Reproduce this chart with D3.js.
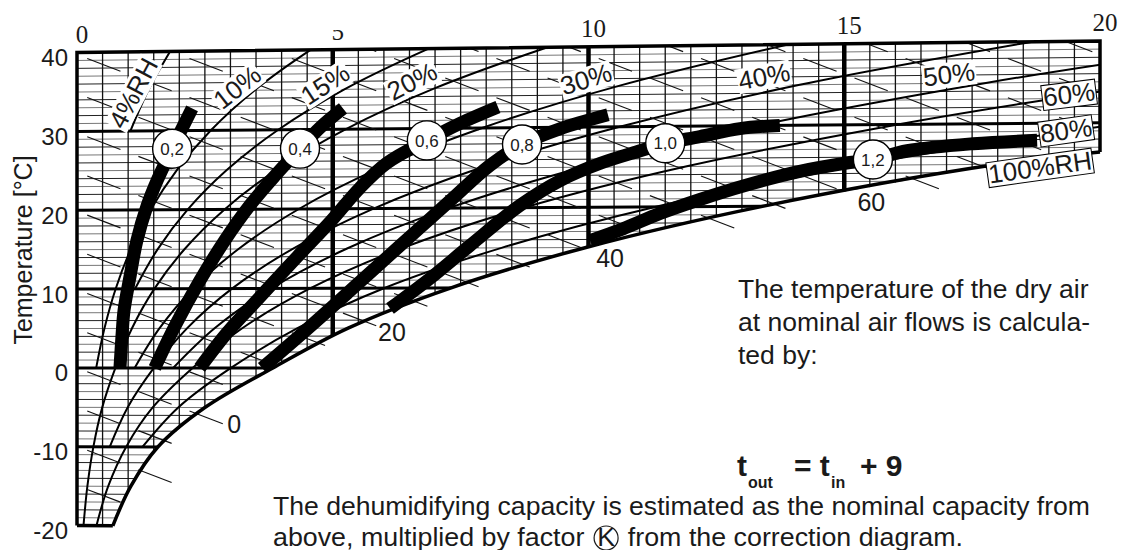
<!DOCTYPE html>
<html>
<head>
<meta charset="utf-8">
<script src="https://cdn.jsdelivr.net/npm/d3@7"></script>
<style>
    body { margin: 0; background: #fff; }
    text { font-family: "Liberation Sans", Arial, Helvetica, sans-serif; fill: #1a1a1a; }
    .serif { font-family: "Liberation Serif", "Times New Roman", serif; }
</style>
</head>
<body>
<svg id="chart" width="1124" height="550"></svg>
<script>
// humidity ratio (g/kg) on top, temperature (°C) on the left
var xTicks = [0, 5, 10, 15, 20],
    tTicks = [-20, -10, 0, 10, 20, 30, 40],
    enthalpyLabels = [0, 20, 40, 60];

// curves as [x g/kg, t °C]
var saturation = [[0.70,-20],[1.05,-15],[1.58,-10],[2.5,-5],[3.83,0],[5.3,5],[7.3,10],[9.95,15],[13.4,20],[18.0,25],[20.0,26.4]];
var rh04 = [[1.045,30],[1.385,35],[1.819,40],[1.916,41]];
var rh10 = [[0.375,0],[0.536,5],[0.755,10],[1.049,15],[1.439,20],[1.952,25],[2.618,30],[3.475,35],[4.566,40],[5.08,42]];
var rh15 = [[1.133,10],[1.575,15],[2.162,20],[2.933,25],[3.935,30],[5.227,35],[6.875,40],[7.65,42]];
var rh20 = [[0.127,-20],[0.203,-15],[0.32,-10],[0.494,-5],[0.751,0],[1.073,5],[1.511,10],[2.101,15],[2.885,20],[3.916,25],[5.258,30],[6.988,35],[9.20,40],[10.24,42]];
var rh30 = [[1.127,0],[1.611,5],[2.27,10],[3.157,15],[4.338,20],[5.893,25],[7.92,30],[10.54,35],[13.90,40],[15.49,42]];
var rh40 = [[0.64,-10],[0.99,-5],[1.503,0],[2.15,5],[3.03,10],[4.217,15],[5.797,20],[7.882,25],[10.61,30],[14.13,35],[18.68,40],[20.8,42]];
var rh50 = [[1.88,0],[2.69,5],[3.793,10],[5.28,15],[7.264,20],[9.884,25],[13.31,30],[17.77,35],[21.04,38]];
var rh60 = [[0.38,-20],[0.609,-15],[0.96,-10],[1.48,-5],[2.26,0],[3.23,5],[4.557,10],[6.347,15],[8.737,20],[11.9,25],[16.05,30],[19.09,33],[21.4,35]];
var rh80 = [[1.28,-10],[1.98,-5],[3.01,0],[4.31,5],[6.0,10],[8.3,15],[11.3,20],[15.3,25],[18.3,28],[20.6,30]];

// correction factor K curves
var k02 = [[0.84,0],[0.88,4.1],[0.92,7.3],[1.04,11.7],[1.17,16.1],[1.37,20.5],[1.58,23.9],[1.86,27.7],[2.25,32.8]];
var k04 = [[1.52,0],[1.92,5.35],[2.40,11.0],[2.89,16.1],[3.38,20.5],[3.87,24.2],[4.36,27.6],[4.75,30.2],[5.2,32.6]];
var k06 = [[2.40,0],[2.93,4.4],[3.52,8.55],[4.30,13.95],[4.95,18.35],[5.53,22.6],[6.06,25.7],[6.84,28.5],[7.49,30.6],[8.23,32.6]];
var k08 = [[3.62,0],[4.36,4.1],[5.34,9.7],[6.31,15.3],[7.29,20.9],[8.07,25.3],[8.70,27.9],[9.44,29.8],[10.38,31.5]];
var k10 = [[6.12,7.45],[6.90,11.2],[7.68,15.3],[8.66,20.3],[9.44,23.35],[10.22,25.45],[11.01,27.0],[11.5,27.9],[12.18,28.7],[12.96,29.65],[13.74,30.0]];
var k12 = [[10.03,15.85],[10.67,17.3],[11.40,19.2],[12.18,20.9],[13.06,22.6],[14.13,24.3],[15.11,25.35],[15.56,25.7],[16.23,26.75],[17.52,27.55],[18.77,27.9]];

var rhSeries = [rh04, rh10, rh15, rh20, rh30, rh40, rh50, rh60, rh80];
var kSeries = [
    {label: "0,2", pts: k02, at: 7},
    {label: "0,4", pts: k04, at: 6},
    {label: "0,6", pts: k06, at: 7},
    {label: "0,8", pts: k08, at: 6},
    {label: "1,0", pts: k10, at: 7},
    {label: "1,2", pts: k12, at: 7}
];

// label placement (pixels, degrees)
var rhLabels = [
    {text: "4%RH", x: 133, y: 93, a: -62, box: false},
    {text: "10%", x: 237, y: 87, a: -38, box: false},
    {text: "15%", x: 325, y: 84, a: -33, box: false},
    {text: "20%", x: 412, y: 81, a: -27, box: false},
    {text: "30%", x: 586, y: 79, a: -17, box: false},
    {text: "40%", x: 764, y: 76, a: -11, box: false},
    {text: "50%", x: 949, y: 74, a: -7, box: false},
    {text: "60%", x: 1069, y: 94, a: -7, box: true},
    {text: "80%", x: 1066, y: 130, a: -8, box: true},
    {text: "100%RH", x: 1040, y: 167, a: -8, box: true}
];

var svg = d3.select("#chart");

var xScale = d3.scaleLinear().domain([0, 20]).range([77, 1100]),
    yScale = d3.scaleLinear().domain([-20, 40]).range([525.6, 52.6]),
    skew = 0.00185;   // isotherms rise with x (Mollier skew)

function px(d) { return xScale(d[0]); }
function py(d) { return yScale(d[1] * (1 + skew * d[0])); }

var satT = d3.scaleLinear()
    .domain(saturation.map(function(d) { return d[0]; }))
    .range(saturation.map(function(d) { return d[1]; }));

function topY(x) { return 40 * (1 + skew * x); }
function lowY(x) { return x < saturation[0][0] ? -20 : satT(x) * (1 + skew * x); }
function hY(h, x) { return (h - 2.501 * x) / 1.006; }

var curve = d3.line().x(px).y(py).curve(d3.curveCatmullRom.alpha(0.5));
var straight = d3.line().x(px).y(py);

// chart area outline
var region = [[0, -20], [0, 40], [20, 40]].concat(saturation.slice().reverse());

var defs = svg.append("defs");
defs.append("clipPath").attr("id", "region")
    .append("path").attr("d", straight(region) + "Z");
defs.append("clipPath").attr("id", "top")
    .append("path").attr("d", "M" + xScale(0) + "," + yScale(40) +
        "L" + xScale(20.6) + "," + yScale(topY(20.6)) +
        "L" + xScale(20.6) + ",560L" + xScale(0) + ",560Z");
defs.append("clipPath").attr("id", "five")
    .append("rect").attr("x", 300).attr("y", 30).attr("width", 60).attr("height", 20);

var grid = svg.append("g").attr("clip-path", "url(#region)");

// thin isotherms every 1 °C
grid.selectAll(".iso")
    .data(d3.range(-19, 40).filter(function(t) { return t % 10 !== 0; }))
    .enter().append("path")
    .attr("d", function(t) { return straight([[0, t], [20, t]]); })
    .attr("stroke", function(t) { return t % 2 ? "#777" : "#222"; })
    .attr("stroke-width", 1).attr("fill", "none");

// thin lines of constant humidity every 0.5 g/kg
grid.selectAll(".vx")
    .data(d3.range(0.5, 20, 0.5).filter(function(x) { return x % 5 !== 0; }))
    .enter().append("line")
    .attr("x1", function(x) { return xScale(x); })
    .attr("x2", function(x) { return xScale(x); })
    .attr("y1", yScale(-21)).attr("y2", 30)
    .attr("stroke", "#111").attr("stroke-width", 1.3);

// relative humidity curves
grid.selectAll(".rh")
    .data(rhSeries)
    .enter().append("path")
    .attr("d", curve)
    .attr("fill", "none").attr("stroke", "#000").attr("stroke-width", 2);

// thick grid
grid.selectAll(".iso10")
    .data([-10, 0, 10, 20, 30])
    .enter().append("path")
    .attr("d", function(t) { return straight([[0, t], [20, t]]); })
    .attr("stroke", "#000").attr("stroke-width", 3).attr("fill", "none");

grid.selectAll(".vx5")
    .data([5, 10, 15])
    .enter().append("line")
    .attr("x1", function(x) { return xScale(x); })
    .attr("x2", function(x) { return xScale(x); })
    .attr("y1", yScale(-21)).attr("y2", 30)
    .attr("stroke", "#000").attr("stroke-width", 4.5);

// enthalpy lines, drawn as short dashes in every 1 g/kg column
var dashes = [];
d3.range(-20, 95, 5).forEach(function(h) {
    d3.range(0, 20).forEach(function(n) {
        var x1 = n + 0.2, x2 = n + 0.85;
        if (hY(h, x2) > topY(x2)) return;
        if (hY(h, x1) < lowY(x1)) return;
        dashes.push([[x1, hY(h, x1)], [x2, hY(h, x2)]]);
    });
});
svg.append("g").attr("clip-path", "url(#top)")
    .selectAll("line").data(dashes)
    .enter().append("line")
    .attr("x1", function(d) { return xScale(d[0][0]); })
    .attr("y1", function(d) { return yScale(d[0][1]); })
    .attr("x2", function(d) { return xScale(d[1][0]); })
    .attr("y2", function(d) { return yScale(d[1][1]); })
    .attr("stroke", "#111").attr("stroke-width", 1.1);

// borders and saturation curve
var frame = svg.append("g").attr("fill", "none").attr("stroke", "#000").attr("stroke-width", 3.5);
frame.append("path").attr("d", straight([[0, -20], [0, 40], [20, 40], [20, saturation[saturation.length - 1][1]]]));
frame.append("path").attr("d", straight([[0, -20], saturation[0]]));
frame.append("path").attr("d", curve(saturation));

// enthalpy labels next to the saturation curve
enthalpyLabels.forEach(function(h) {
    var lo = 0.3, hi = 20;
    for (var i = 0; i < 40; i++) {
        var mid = (lo + hi) / 2;
        if (hY(h, mid) > lowY(mid)) lo = mid; else hi = mid;
    }
    svg.append("text")
        .attr("x", xScale(lo) + (h === 0 ? 37 : 27))
        .attr("y", yScale(hY(h, lo)) + 19)
        .attr("text-anchor", "middle")
        .attr("font-size", 25)
        .text(h);
});

// K curves
svg.append("g").selectAll("path")
    .data(kSeries)
    .enter().append("path")
    .attr("d", function(d) { return curve(d.pts); })
    .attr("fill", "none").attr("stroke", "#000").attr("stroke-width", 13)
    .attr("stroke-linecap", "butt");

var kLab = svg.append("g").selectAll("g")
    .data(kSeries)
    .enter().append("g")
    .attr("transform", function(d) { var p = d.pts[d.at]; return "translate(" + px(p) + "," + py(p) + ")"; });
kLab.append("circle").attr("r", 19.5).attr("fill", "#fff").attr("stroke", "#000").attr("stroke-width", 1.4);
kLab.append("text").attr("text-anchor", "middle").attr("dy", "0.36em").attr("font-size", 17)
    .text(function(d) { return d.label; });

// relative humidity labels
var rl = svg.append("g").selectAll("g")
    .data(rhLabels)
    .enter().append("g")
    .attr("transform", function(d) { return "translate(" + d.x + "," + d.y + ") rotate(" + d.a + ")"; });
rl.append("text").attr("text-anchor", "middle").attr("dy", "0.36em").attr("font-size", 26)
    .text(function(d) { return d.text; });
rl.each(function(d) {
    var g = d3.select(this), b = g.select("text").node().getBBox();
    g.insert("rect", "text")
        .attr("x", b.x - 1).attr("y", b.y + 3)
        .attr("width", b.width + 2).attr("height", b.height - 5)
        .attr("fill", "#fff")
        .attr("stroke", d.box ? "#000" : "none").attr("stroke-width", 1);
});

// axes labels
svg.append("g").selectAll("text")
    .data(tTicks)
    .enter().append("text")
    .attr("x", 68).attr("y", function(t) { return yScale(t) + 13.5; })
    .attr("text-anchor", "end").attr("font-size", 24)
    .text(function(t) { return t; });

svg.append("g").selectAll("text")
    .data(xTicks)
    .enter().append("text")
    .attr("class", "serif")
    .attr("x", function(v) { return xScale(v) + 5; })
    .attr("y", function(v) { return yScale(topY(v)) - 10; })
    .attr("text-anchor", "middle").attr("font-size", 25)
    .attr("clip-path", function(v) { return v === 5 ? "url(#five)" : null; })
    .text(function(v) { return v; });

svg.append("text")
    .attr("transform", "translate(32,250) rotate(-90)")
    .attr("text-anchor", "middle").attr("font-size", 25)
    .text("Temperature [°C]");

// notes
var note = svg.append("text").attr("font-size", 26.5);
["The temperature of the dry air", "at nominal air flows is calcula-", "ted by:"].forEach(function(s, i) {
    note.append("tspan").attr("x", 738).attr("y", 298 + i * 33).text(s);
});

var f = svg.append("g").attr("font-weight", "bold");
f.append("text").attr("x", 737).attr("y", 476).attr("font-size", 30).text("t");
f.append("text").attr("x", 748).attr("y", 488).attr("font-size", 16).text("out");
f.append("text").attr("x", 794).attr("y", 476).attr("font-size", 30).text("= t");
f.append("text").attr("x", 831).attr("y", 488).attr("font-size", 16).text("in");
f.append("text").attr("x", 860).attr("y", 476).attr("font-size", 30).text("+ 9");

svg.append("text").attr("x", 273).attr("y", 515).attr("font-size", 25)
    .attr("textLength", 817).attr("lengthAdjust", "spacingAndGlyphs")
    .text("The dehumidifying capacity is estimated as the nominal capacity from");
var l2 = svg.append("text").attr("x", 273).attr("y", 546).attr("font-size", 25)
    .attr("textLength", 690).attr("lengthAdjust", "spacingAndGlyphs")
    .text("above, multiplied by factor \u2009K\u2009 from the correction diagram.");
var kIdx = "above, multiplied by factor \u2009".length;
var ext = l2.node().getExtentOfChar(kIdx);
svg.append("circle")
    .attr("cx", ext.x + ext.width / 2).attr("cy", ext.y + ext.height / 2 + 1)
    .attr("r", 12).attr("fill", "none").attr("stroke", "#1a1a1a").attr("stroke-width", 1.2);
</script>
</body>
</html>
